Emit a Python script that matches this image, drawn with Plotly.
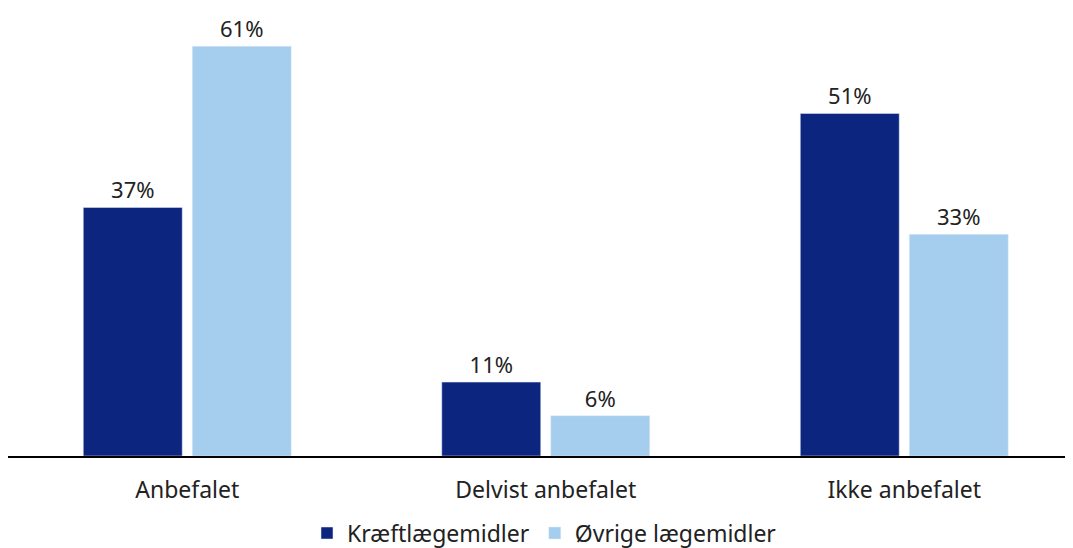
import plotly.graph_objects as go

categories = ["Anbefalet", "Delvist anbefalet", "Ikke anbefalet"]
series_names = ["Kræftlægemidler", "Øvrige lægemidler"]
kraeft = [37, 11, 51]
oevrige = [61, 6, 33]
colors = ["#0c2680", "#a4cdee"]

fig = go.Figure()
for name, vals, col in zip(series_names, [kraeft, oevrige], colors):
    fig.add_trace(go.Bar(
        x=categories, y=vals, name=name, marker_color=col,
        text=[f"{v}%" for v in vals], textposition="outside",
        textfont=dict(size=22, color="#222222"), cliponaxis=False,
    ))

fig.update_layout(
    width=1073, height=548,
    margin=dict(l=0, r=0, t=0, b=100, autoexpand=False),
    plot_bgcolor="white", paper_bgcolor="white",
    font=dict(family="Noto Sans", size=23, color="#222222"),
    barmode="group", bargap=0.392, bargroupgap=0.092,
    showlegend=True,
    legend=dict(orientation="h", x=0.5, xanchor="center", y=-0.172, yanchor="middle",
                font=dict(size=23), itemwidth=30),
    xaxis=dict(range=[-0.5, 2.493], showline=True, linecolor="black", linewidth=2,
               ticks="", showgrid=False, tickfont=dict(size=23), ticklabelstandoff=12),
    yaxis=dict(range=[0, 66.7], visible=False, showgrid=False),
)
fig.write_html("out.html")
